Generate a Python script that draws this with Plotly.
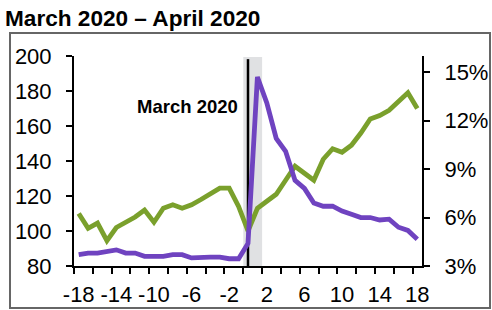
import plotly.graph_objects as go

# Data
months = list(range(-18, 19))
index_values = [110, 101.5, 104.5, 94.5, 102, 105, 108, 112, 105, 113, 115, 113, 115, 118, 121.5, 124.5, 124.5, 114,
                100, 113, 117, 121, 129, 137, 133, 129, 141, 147, 145, 149, 156, 164, 166, 169, 174, 179, 170]
unemployment_rate = [3.7, 3.8, 3.8, 3.9, 4.0, 3.8, 3.8, 3.6, 3.6, 3.6, 3.7, 3.7, 3.5, 3.55, 3.55, 3.55, 3.45, 3.45,
                     4.4, 14.7, 13.1, 10.9, 10.1, 8.3, 7.8, 6.9, 6.7, 6.7, 6.4, 6.2, 6.0, 6.0, 5.85, 5.9, 5.4, 5.2, 4.65]
x_tick_labels = [-18, -14, -10, -6, -2, 2, 6, 10, 14, 18]
x_minor_ticks = [-18.5 + 2 * k for k in range(19)]
left_ticks = [80, 100, 120, 140, 160, 180, 200]
right_ticks = [3, 6, 9, 12, 15]
right_tick_text = ["3%", "6%", "9%", "12%", "15%"]
event_month = 0
event_label = "March 2020"
title_text = "March 2020 – April 2020"

GREEN = "#7aa02c"
PURPLE = "#6f43c0"
FONT = "Liberation Sans, Arial, sans-serif"

fig = go.Figure()
fig.add_trace(go.Scatter(x=months, y=index_values, mode="lines", yaxis="y",
                         line=dict(color=GREEN, width=4.8), showlegend=False, hoverinfo="skip"))
fig.add_trace(go.Scatter(x=months, y=unemployment_rate, mode="lines", yaxis="y2",
                         line=dict(color=PURPLE, width=4.8), showlegend=False, hoverinfo="skip"))

# grey band and event line
fig.add_shape(type="rect", xref="x", yref="paper", x0=event_month - 0.5, x1=event_month + 1.5,
              y0=0, y1=0.995, fillcolor="#e0e1e3", line=dict(width=0), layer="below")
fig.add_shape(type="line", xref="x", yref="paper", x0=event_month, x1=event_month,
              y0=0, y1=0.985, line=dict(color="black", width=2.5), layer="below")

# outer frame
fig.add_shape(type="rect", xref="paper", yref="paper",
              x0=(10 - 74) / 348, x1=(490 - 74) / 348,
              y0=(266 - 308) / 210, y1=(266 - 33) / 210,
              line=dict(color="#666666", width=2), fillcolor="rgba(0,0,0,0)")

fig.add_annotation(x=event_month, y=171, xref="x", yref="y", text="<b>%s</b>" % event_label,
                   showarrow=False, xanchor="right", yanchor="middle", xshift=-8,
                   font=dict(family=FONT, size=18.5, color="black"))

fig.update_layout(
    width=492, height=310,
    margin=dict(l=74, r=70, t=56, b=44, autoexpand=False),
    paper_bgcolor="white", plot_bgcolor="white",
    font=dict(family=FONT, color="black"),
    title=dict(text="<b>%s</b>" % title_text, x=5 / 492, xanchor="left", xref="container",
               y=1 - 18 / 310, yanchor="middle", yref="container",
               font=dict(family=FONT, size=22.6, color="black")),
    xaxis=dict(range=[-18.5, 18.5], tickvals=x_tick_labels, ticktext=[str(v) for v in x_tick_labels],
               ticks="", showline=True, linecolor="black", linewidth=2, showgrid=False, zeroline=False,
               tickfont=dict(size=22), ticklabelstandoff=8,
               minor=dict(tickvals=x_minor_ticks, ticks="outside", ticklen=6, tickwidth=2, tickcolor="black")),
    yaxis=dict(range=[80, 200], tickvals=left_ticks, ticks="outside", ticklen=6, tickwidth=2,
               tickcolor="black", showline=True, linecolor="black", linewidth=2, showgrid=False,
               zeroline=False, tickfont=dict(size=22), ticklabelstandoff=10),
    yaxis2=dict(range=[3, 16], tickvals=right_ticks, ticktext=right_tick_text, overlaying="y", side="right",
                ticks="outside", ticklen=6, tickwidth=2, tickcolor="black", showline=True,
                linecolor="black", linewidth=2, showgrid=False, zeroline=False,
                tickfont=dict(size=22), ticklabelstandoff=10),
)

fig.write_html("out.html", config={"displayModeBar": False},
               post_script="document.body.style.margin='0';")
